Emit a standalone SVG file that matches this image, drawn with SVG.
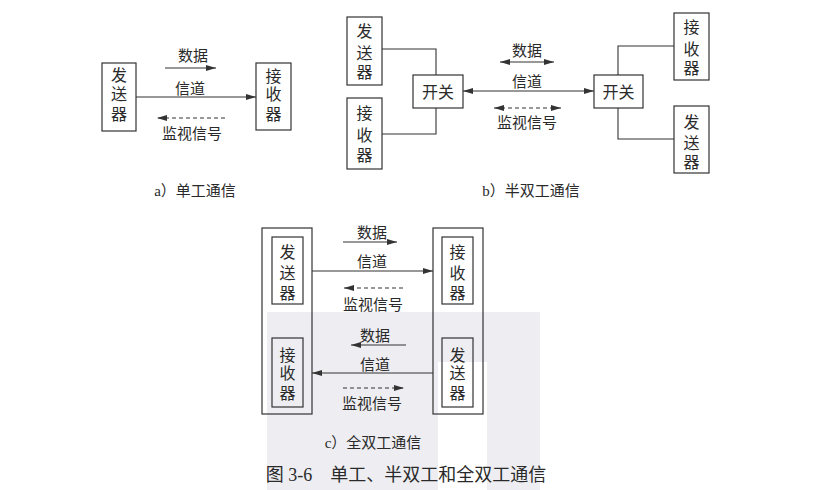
<svg xmlns="http://www.w3.org/2000/svg" width="820" height="490" viewBox="0 0 820 490">
<style>
text{font-family:"Liberation Serif","Noto Sans CJK SC",serif;fill:#2a2a2a;text-anchor:middle}
.bx{fill:none;stroke:#333;stroke-width:1.2}
.ln{fill:none;stroke:#333;stroke-width:1.1}
.ds{fill:none;stroke:#333;stroke-width:1.1;stroke-dasharray:4 3}
.n{font-size:16px}
.l{font-size:15px}
.cap{font-size:15px}
.ttl{font-size:18px}
</style>
<defs>
<marker id="arr" viewBox="0 0 10 6" refX="10" refY="3" markerWidth="10" markerHeight="6" markerUnits="userSpaceOnUse" orient="auto-start-reverse">
<path d="M0,0 L10,3 L0,6 z" fill="#333"/>
</marker>
</defs>
<rect width="820" height="490" fill="#fff"/>
<path d="M267,312 H540 V490 H487 V362 H438 V490 H267 Z" fill="#eeeef2"/>

<!-- a) simplex -->
<g id="a-sender"><rect class="bx" x="102" y="63" width="34" height="68"/>
<text class="n" x="119" y="81">发</text><text class="n" x="119" y="100">送</text><text class="n" x="119" y="120">器</text></g>
<g id="a-receiver"><rect class="bx" x="256" y="63" width="35" height="67"/>
<text class="n" x="273.5" y="82">接</text><text class="n" x="273.5" y="100">收</text><text class="n" x="273.5" y="120">器</text></g>

<!-- b) half duplex -->
<g id="b-sender-l"><rect class="bx" x="347" y="17" width="35" height="68"/>
<text class="n" x="364.5" y="37">发</text><text class="n" x="364.5" y="59">送</text><text class="n" x="364.5" y="78">器</text></g>
<g id="b-receiver-l"><rect class="bx" x="347" y="98" width="35" height="71"/>
<text class="n" x="364.5" y="119">接</text><text class="n" x="364.5" y="141">收</text><text class="n" x="364.5" y="161">器</text></g>
<g id="b-switch-l"><rect class="bx" x="413" y="75" width="50" height="33"/>
<text class="n" x="438" y="98">开关</text></g>
<g id="b-switch-r"><rect class="bx" x="594" y="75" width="49" height="33"/>
<text class="n" x="618.5" y="98">开关</text></g>
<g id="b-receiver-r"><rect class="bx" x="674" y="13" width="35" height="67"/>
<text class="n" x="691.5" y="33">接</text><text class="n" x="691.5" y="55">收</text><text class="n" x="691.5" y="74">器</text></g>
<g id="b-sender-r"><rect class="bx" x="674" y="106" width="35" height="67"/>
<text class="n" x="691.5" y="128">发</text><text class="n" x="691.5" y="149">送</text><text class="n" x="691.5" y="168">器</text></g>

<!-- c) full duplex -->
<g id="c-station-l"><rect class="bx" x="262" y="228" width="50" height="186"/></g>
<g id="c-station-r"><rect class="bx" x="433" y="228" width="50" height="186"/></g>
<g id="c-sender-l"><rect class="bx" x="272" y="237" width="31" height="67"/>
<text class="n" x="287.5" y="258">发</text><text class="n" x="287.5" y="279">送</text><text class="n" x="287.5" y="299">器</text></g>
<g id="c-receiver-r"><rect class="bx" x="442" y="237" width="31" height="67"/>
<text class="n" x="457.5" y="258">接</text><text class="n" x="457.5" y="279">收</text><text class="n" x="457.5" y="299">器</text></g>
<g id="c-receiver-l"><rect class="bx" x="272" y="338" width="31" height="69"/>
<text class="n" x="287.5" y="361">接</text><text class="n" x="287.5" y="379">收</text><text class="n" x="287.5" y="399">器</text></g>
<g id="c-sender-r"><rect class="bx" x="442" y="338" width="31" height="69"/>
<text class="n" x="457.5" y="361">发</text><text class="n" x="457.5" y="379">送</text><text class="n" x="457.5" y="399">器</text></g>

<g id="connectors">
<!-- a -->
<line class="ln" x1="136" y1="97" x2="256" y2="97" marker-end="url(#arr)"/>
<line class="ln" x1="165" y1="68" x2="216" y2="68" marker-end="url(#arr)"/>
<line class="ds" x1="225" y1="118" x2="157" y2="118" marker-end="url(#arr)"/>
<!-- b -->
<polyline class="ln" points="382,49 436,49 436,75"/>
<polyline class="ln" points="382,134 436,134 436,108"/>
<polyline class="ln" points="674,46 618,46 618,75"/>
<polyline class="ln" points="674,139 618,139 618,108"/>
<line class="ln" x1="463" y1="91" x2="594" y2="91" marker-start="url(#arr)" marker-end="url(#arr)"/>
<line class="ln" x1="500" y1="62" x2="554" y2="62" marker-start="url(#arr)" marker-end="url(#arr)"/>
<line class="ds" x1="494" y1="108" x2="561" y2="108" marker-start="url(#arr)" marker-end="url(#arr)"/>
<!-- c -->
<line class="ln" x1="312" y1="271" x2="433" y2="271" marker-end="url(#arr)"/>
<line class="ln" x1="343" y1="242" x2="397" y2="242" marker-end="url(#arr)"/>
<line class="ds" x1="403" y1="288" x2="344" y2="288" marker-end="url(#arr)"/>
<line class="ln" x1="433" y1="373" x2="312" y2="373" marker-end="url(#arr)"/>
<line class="ln" x1="406" y1="345" x2="351" y2="345" marker-end="url(#arr)"/>
<line class="ds" x1="343" y1="388" x2="404" y2="388" marker-end="url(#arr)"/>
</g>

<g id="labels">
<text class="l" x="193" y="61">数据</text>
<text class="l" x="190" y="94">信道</text>
<text class="l" x="192" y="139">监视信号</text>
<text class="l" x="527" y="56">数据</text>
<text class="l" x="527" y="87">信道</text>
<text class="l" x="527" y="128">监视信号</text>
<text class="l" x="372" y="238">数据</text>
<text class="l" x="372" y="267">信道</text>
<text class="l" x="373" y="310">监视信号</text>
<text class="l" x="375" y="341">数据</text>
<text class="l" x="375" y="370">信道</text>
<text class="l" x="372" y="409">监视信号</text>
<text class="cap" x="195" y="196">a）单工通信</text>
<text class="cap" x="531" y="196">b）半双工通信</text>
<text class="cap" x="373" y="448">c）全双工通信</text>
<text class="ttl" x="406" y="481">图 3-6　单工、半双工和全双工通信</text>
</g>
</svg>
